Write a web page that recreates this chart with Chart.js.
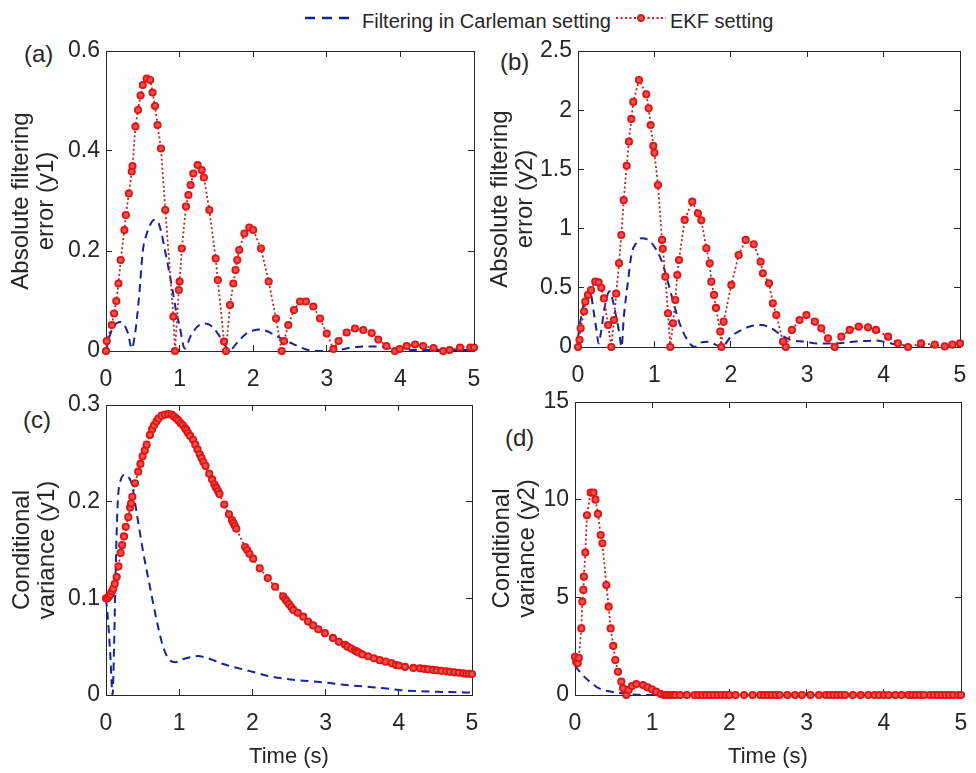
<!DOCTYPE html>
<html>
<head>
<meta charset="utf-8">
<script src="https://cdn.jsdelivr.net/npm/chart.js@4.4.1/dist/chart.umd.min.js"></script>
<style>
  body { margin: 0; background: #fff; width: 976px; height: 773px; position: relative; overflow: hidden;
         font-family: "Liberation Sans", Arial, sans-serif; color: #262626; }
  canvas { position: absolute; }
  .lbl { position: absolute; font-size: 24px; line-height: 24px; }
  .leg { position: absolute; font-size: 20px; line-height: 24px; top: 9px; white-space: nowrap; }
  svg { position: absolute; }
</style>
</head>
<body>
<svg style="left:305px; top:10px" width="48" height="16"><line x1="0" y1="8" x2="47" y2="8" stroke="rgb(25,35,150)" stroke-width="2.5" stroke-dasharray="10,7"/></svg>
<div class="leg" style="left:362px">Filtering in Carleman setting</div>
<svg style="left:614px; top:10px" width="54" height="16"><line x1="2" y1="8" x2="52" y2="8" stroke="rgb(185,35,35)" stroke-width="1.8" stroke-dasharray="2,2.5"/><circle cx="27" cy="8" r="3" fill="rgb(235,80,80)" stroke="rgb(225,20,20)" stroke-width="1.8"/></svg>
<div class="leg" style="left:670px">EKF setting</div>

<div class="lbl" style="left:24px; top:42px">(a)</div>
<div class="lbl" style="left:500px; top:50px">(b)</div>
<div class="lbl" style="left:23px; top:408px">(c)</div>
<div class="lbl" style="left:505px; top:426px">(d)</div>

<canvas id="chartA" width="488" height="350" style="left:0; top:40px"></canvas>
<canvas id="chartB" width="488" height="350" style="left:488px; top:40px"></canvas>
<canvas id="chartC" width="488" height="383" style="left:0; top:390px"></canvas>
<canvas id="chartD" width="488" height="383" style="left:488px; top:390px"></canvas>

<script>
'use strict';

// tick labels
const xTicks = [0, 1, 2, 3, 4, 5];
const yTicksA = [0, 0.2, 0.4, 0.6];
const yTicksB = [0, 0.5, 1, 1.5, 2, 2.5];
const yTicksC = [0, 0.1, 0.2, 0.3];
const yTicksD = [0, 5, 10, 15];

// (a) absolute filtering error, y1
const tA_ekf = [0, 0.01, 0.08, 0.11, 0.14, 0.17, 0.2, 0.25, 0.27, 0.31,
  0.35, 0.36, 0.4, 0.435, 0.47, 0.5, 0.553, 0.6, 0.633, 0.666,
  0.7, 0.747, 0.806, 0.915, 0.937, 0.99, 1.0, 1.03, 1.087, 1.12,
  1.15, 1.186, 1.245, 1.3, 1.33, 1.404, 1.49, 1.52, 1.603, 1.63,
  1.685, 1.73, 1.76, 1.784, 1.81, 1.88, 1.947, 2.0, 2.106, 2.21,
  2.31, 2.387, 2.42, 2.477, 2.554, 2.636, 2.717, 2.817, 2.908, 2.999,
  3.09, 3.16, 3.27, 3.383, 3.496, 3.61, 3.7, 3.81, 3.926, 3.99,
  4.085, 4.2, 4.31, 4.45, 4.58, 4.67, 4.81, 4.95, 5.0];
const vA_ekf = [0, 0.02, 0.052, 0.075, 0.1, 0.135, 0.182, 0.242, 0.272, 0.315,
  0.359, 0.37, 0.449, 0.482, 0.511, 0.532, 0.545, 0.542, 0.517, 0.49,
  0.452, 0.405, 0.282, 0.069, 0, 0.122, 0.139, 0.205, 0.289, 0.312,
  0.332, 0.355, 0.372, 0.362, 0.347, 0.282, 0.185, 0.142, 0.019, 0,
  0.092, 0.135, 0.162, 0.182, 0.202, 0.235, 0.247, 0.242, 0.205, 0.139,
  0.065, 0, 0.02, 0.052, 0.082, 0.099, 0.099, 0.089, 0.065, 0.035,
  0.004, 0.02, 0.037, 0.045, 0.042, 0.036, 0.023, 0.01, 0, 0.004,
  0.01, 0.013, 0.01, 0.006, 0, 0.002, 0.007, 0.007, 0.007];
const tA_carl = [0, 0.05, 0.1, 0.15, 0.2, 0.25, 0.3, 0.35, 0.4, 0.45,
  0.5, 0.55, 0.6, 0.65, 0.7, 0.75, 0.8, 0.85, 0.9, 0.95,
  1.0, 1.07, 1.15, 1.25, 1.35, 1.45, 1.55, 1.68, 1.8, 1.9,
  2.0, 2.1, 2.2, 2.3, 2.4, 2.5, 2.6, 2.7, 2.8, 3.0,
  3.1, 3.2, 3.3, 3.4, 3.5, 3.6, 3.7, 3.8, 3.9, 4.0,
  4.2, 4.4, 4.6, 4.8, 5.0];
const vA_carl = [0, 0.03, 0.048, 0.056, 0.058, 0.052, 0.035, 0.005, 0.04, 0.11,
  0.2, 0.233, 0.252, 0.262, 0.26, 0.238, 0.202, 0.165, 0.125, 0.082,
  0.05, 0.005, 0.03, 0.05, 0.055, 0.048, 0.028, 0.002, 0.02, 0.034,
  0.041, 0.043, 0.039, 0.031, 0.024, 0.017, 0.01, 0.004, 0.001, 0,
  0.001, 0.003, 0.006, 0.008, 0.009, 0.009, 0.009, 0.007, 0.004, 0.002,
  0.002, 0.002, 0.002, 0.002, 0.002];

// (b) absolute filtering error, y2
const tB_ekf = [0, 0.02, 0.035, 0.079, 0.096, 0.131, 0.17, 0.226, 0.27, 0.305,
  0.34, 0.393, 0.436, 0.471, 0.5, 0.537, 0.567, 0.598, 0.637, 0.667,
  0.698, 0.724, 0.798, 0.894, 0.925, 0.951, 0.986, 1.0, 1.047, 1.1,
  1.11, 1.143, 1.178, 1.208, 1.244, 1.274, 1.3, 1.322, 1.396, 1.495,
  1.57, 1.614, 1.68, 1.724, 1.745, 1.78, 1.806, 1.862, 1.876, 1.906,
  2.007, 2.103, 2.195, 2.3, 2.39, 2.42, 2.5, 2.55, 2.596, 2.684,
  2.72, 2.8, 2.9, 2.99, 3.1, 3.185, 3.272, 3.36, 3.447, 3.556,
  3.674, 3.796, 3.9, 4.058, 4.188, 4.32, 4.49, 4.67, 4.8, 4.9,
  5.0];
const vB_ekf = [0, 0.06, 0.158, 0.3, 0.383, 0.44, 0.48, 0.552, 0.545, 0.5,
  0.41, 0.186, 0, 0.228, 0.45, 0.707, 0.946, 1.24, 1.53, 1.734,
  1.926, 2.07, 2.255, 2.134, 2.016, 1.875, 1.698, 1.64, 1.368, 0.904,
  0.83, 0.594, 0.285, 0, 0.2, 0.397, 0.608, 0.735, 1.073, 1.227,
  1.129, 1.07, 0.834, 0.707, 0.552, 0.44, 0.33, 0.13, 0, 0.214,
  0.524, 0.777, 0.904, 0.867, 0.72, 0.622, 0.538, 0.369, 0.27, 0.045,
  0, 0.144, 0.228, 0.27, 0.214, 0.158, 0.073, 0, 0.087, 0.144,
  0.172, 0.166, 0.144, 0.087, 0.031, 0, 0.03, 0.02, 0.005, 0.02,
  0.03];
const tB_carl = [0, 0.04, 0.08, 0.12, 0.16, 0.2, 0.24, 0.27, 0.3, 0.34,
  0.38, 0.42, 0.46, 0.5, 0.54, 0.57, 0.6, 0.65, 0.7, 0.76,
  0.83, 0.9, 1.0, 1.09, 1.17, 1.24, 1.33, 1.42, 1.53, 1.6,
  1.7, 1.8, 1.88, 2.0, 2.14, 2.27, 2.4, 2.53, 2.66, 2.79,
  2.97, 3.15, 3.35, 3.6, 3.9, 4.0, 4.2, 4.4, 4.6, 4.8,
  5.0];
const vB_carl = [0.08, 0.25, 0.38, 0.45, 0.47, 0.32, 0.15, 0.03, 0.12, 0.3,
  0.43, 0.47, 0.38, 0.256, 0.12, 0, 0.256, 0.53, 0.78, 0.876,
  0.918, 0.91, 0.847, 0.735, 0.566, 0.397, 0.2, 0.073, 0, 0.035,
  0.045, 0.02, 0, 0.087, 0.144, 0.177, 0.186, 0.158, 0.101, 0.059,
  0.045, 0.03, 0.03, 0.045, 0.054, 0.045, 0.017, 0.01, 0.01, 0.01,
  0.01];

// (c) conditional variance, y1
const tC_ekf = [0, 0.01, 0.02, 0.04, 0.06, 0.08, 0.1, 0.12, 0.146, 0.17,
  0.2, 0.22, 0.246, 0.27, 0.305, 0.33, 0.342, 0.36, 0.396, 0.44,
  0.47, 0.5, 0.53, 0.556, 0.6, 0.63, 0.656, 0.69, 0.715, 0.76,
  0.806, 0.85, 0.897, 0.93, 0.96, 0.988, 1.02, 1.05, 1.08, 1.1,
  1.12, 1.15, 1.19, 1.22, 1.25, 1.28, 1.306, 1.33, 1.36, 1.41,
  1.45, 1.48, 1.5, 1.51, 1.53, 1.55, 1.616, 1.68, 1.72, 1.74,
  1.76, 1.78, 1.9, 1.93, 1.96, 2.01, 2.1, 2.21, 2.31, 2.42,
  2.45, 2.47, 2.5, 2.53, 2.56, 2.62, 2.695, 2.76, 2.83, 2.9,
  2.99, 3.1, 3.18, 3.265, 3.3, 3.35, 3.4, 3.425, 3.45, 3.5,
  3.58, 3.66, 3.74, 3.82, 3.9, 3.96, 4.0, 4.085, 4.2, 4.29,
  4.35, 4.4, 4.47, 4.52, 4.58, 4.65, 4.7, 4.76, 4.82, 4.88,
  4.92, 4.96, 5.0];
const vC_ekf = [0.1, 0.1, 0.1, 0.102, 0.104, 0.107, 0.11, 0.115, 0.122, 0.133,
  0.147, 0.155, 0.164, 0.174, 0.184, 0.194, 0.198, 0.205, 0.219, 0.231,
  0.239, 0.247, 0.253, 0.259, 0.269, 0.275, 0.279, 0.283, 0.286, 0.289,
  0.29, 0.2905, 0.29, 0.288, 0.286, 0.284, 0.281, 0.279, 0.276, 0.274,
  0.271, 0.268, 0.264, 0.259, 0.254, 0.249, 0.245, 0.241, 0.237, 0.229,
  0.223, 0.218, 0.215, 0.214, 0.211, 0.208, 0.197, 0.187, 0.181, 0.178,
  0.175, 0.172, 0.153, 0.15, 0.146, 0.141, 0.131, 0.121, 0.112, 0.102,
  0.099, 0.097, 0.094, 0.091, 0.088, 0.085, 0.081, 0.076, 0.072, 0.068,
  0.064, 0.059, 0.055, 0.052, 0.05, 0.048, 0.046, 0.045, 0.044, 0.042,
  0.04, 0.038, 0.036, 0.0345, 0.033, 0.031, 0.0305, 0.029, 0.028, 0.0276,
  0.027, 0.0265, 0.0259, 0.0255, 0.025, 0.0245, 0.024, 0.0235, 0.023, 0.0224,
  0.022, 0.022, 0.0217];
const tC_carl = [0, 0.03, 0.06, 0.09, 0.11, 0.13, 0.15, 0.17, 0.2, 0.25,
  0.3, 0.35, 0.42, 0.51, 0.6, 0.69, 0.78, 0.87, 0.95, 1.05,
  1.15, 1.25, 1.35, 1.47, 1.6, 1.74, 1.9, 2.0, 2.2, 2.42,
  2.65, 2.88, 3.2, 3.56, 3.8, 4.02, 4.25, 4.47, 4.7, 5.0];
const vC_carl = [0.1, 0.075, 0.04, 0, 0.05, 0.12, 0.18, 0.21, 0.222, 0.228,
  0.226, 0.219, 0.188, 0.147, 0.112, 0.078, 0.05, 0.036, 0.034, 0.037,
  0.039, 0.0403, 0.039, 0.036, 0.032, 0.029, 0.026, 0.024, 0.02, 0.017,
  0.015, 0.0138, 0.011, 0.0086, 0.007, 0.005, 0.004, 0.0035, 0.003, 0.0025];

// (d) conditional variance, y2
const tD_ekf = [0, 0.015, 0.035, 0.05, 0.082, 0.095, 0.108, 0.115, 0.134, 0.155,
  0.203, 0.24, 0.265, 0.298, 0.333, 0.355, 0.406, 0.436, 0.462, 0.496,
  0.522, 0.557, 0.6, 0.623, 0.665, 0.695, 0.738, 0.794, 0.881, 0.94,
  0.997, 1.05, 1.11, 1.15, 1.18, 1.21, 1.24, 1.27, 1.3, 1.36,
  1.45, 1.55, 1.6, 1.65, 1.7, 1.75, 1.8, 1.85, 1.9, 1.95,
  2.0, 2.08, 2.19, 2.3, 2.4, 2.45, 2.5, 2.55, 2.6, 2.65,
  2.75, 2.85, 2.94, 3.05, 3.16, 3.25, 3.3, 3.35, 3.4, 3.45,
  3.5, 3.6, 3.7, 3.8, 3.88, 3.94, 4.0, 4.06, 4.15, 4.23,
  4.32, 4.37, 4.42, 4.47, 4.52, 4.6, 4.65, 4.7, 4.75, 4.8,
  4.85, 4.9, 4.96, 5.0];
const vD_ekf = [1.95, 1.7, 1.62, 1.9, 3.41, 4.78, 5.38, 6.06, 7.29, 9.2,
  10.36, 10.36, 10.0, 9.27, 8.19, 7.77, 5.63, 4.52, 3.41, 2.51,
  1.79, 1.19, 0.68, 0.34, 0, 0.26, 0.46, 0.56, 0.51, 0.39,
  0.29, 0.17, 0.05, 0, 0, 0, 0, 0, 0, 0,
  0, 0, 0, 0, 0, 0, 0, 0, 0, 0,
  0, 0, 0, 0, 0, 0, 0, 0, 0, 0,
  0, 0, 0, 0, 0, 0, 0, 0, 0, 0,
  0, 0, 0, 0, 0, 0, 0, 0, 0, 0,
  0, 0, 0, 0, 0, 0, 0, 0, 0, 0,
  0, 0, 0, 0];
const tD_carl = [0, 0.05, 0.1, 0.17, 0.25, 0.3, 0.42, 0.58, 0.7, 0.8,
  1.0, 2.0, 3.0, 4.0, 5.0];
const vD_carl = [1.5, 1.25, 1.02, 0.75, 0.5, 0.36, 0.2, 0.1, 0.04, 0.015,
  0, 0, 0, 0, 0];

const ink = '#262626';
const fontFamily = '"Liberation Sans", Arial, sans-serif';

function pts(ts, vs) {
  return ts.map((t, i) => ({x: t, y: vs[i]}));
}

function setTicks(list) {
  return function(scale) {
    scale.ticks = list.map(v => ({value: v}));
  };
}

// fix an axis size and stop its labels from pushing the plot area
function fixSize(prop, size) {
  return function(scale) {
    scale[prop] = size;
    scale.paddingLeft = 0;
    scale.paddingRight = 0;
    scale.paddingTop = 0;
    scale.paddingBottom = 0;
  };
}

// inward MATLAB-style tick marks
const tickGrid = {display: true, drawOnChartArea: false, drawTicks: true, tickLength: -6, color: ink, lineWidth: 1};

function makePanel(id, p) {
  new Chart(document.getElementById(id), {
    type: 'line',
    data: {
      datasets: [
        {
          label: 'EKF setting',
          data: pts(p.tEkf, p.vEkf),
          order: 0,
          borderColor: 'rgb(185,35,35)',
          borderWidth: 1.8,
          borderDash: [2, 2.5],
          tension: 0,
          pointRadius: 3.2,
          pointBorderWidth: 1.8,
          pointBorderColor: 'rgb(225,20,20)',
          pointBackgroundColor: 'rgb(235,80,80)',
          clip: false
        },
        {
          label: 'Filtering in Carleman setting',
          data: pts(p.tCarl, p.vCarl),
          order: 1,
          borderColor: 'rgb(25,35,150)',
          borderWidth: 2,
          borderDash: [8, 5.5],
          cubicInterpolationMode: 'monotone',
          pointRadius: 0,
          clip: false
        }
      ]
    },
    options: {
      responsive: false,
      animation: false,
      layout: {padding: {left: 0, top: p.padTop, right: p.padRight, bottom: 0}},
      plugins: {legend: {display: false}, tooltip: {enabled: false}},
      scales: {
        x: {
          type: 'linear', position: 'bottom', min: 0, max: 5,
          afterBuildTicks: setTicks(xTicks),
          afterFit: fixSize('height', p.xAxisHeight),
          grid: tickGrid,
          border: {display: true, color: ink, width: 1},
          ticks: {padding: 21, maxRotation: 0, color: ink, font: {family: fontFamily, size: 23},
                  callback: v => String(v)},
          title: {display: p.xTitle, text: 'Time (s)', color: ink, padding: {top: 0, bottom: 3},
                  font: {family: fontFamily, size: 22}}
        },
        xTop: {
          type: 'linear', position: 'top', min: 0, max: 5,
          afterBuildTicks: setTicks(xTicks),
          afterFit: fixSize('height', 0),
          grid: tickGrid,
          border: {display: true, color: ink, width: 1},
          ticks: {display: false}
        },
        y: {
          type: 'linear', position: 'left', min: 0, max: p.yMax,
          afterBuildTicks: setTicks(p.yTicks),
          afterFit: fixSize('width', p.yAxisWidth),
          grid: tickGrid,
          border: {display: true, color: ink, width: 1},
          ticks: {padding: 12, color: ink, font: {family: fontFamily, size: 23},
                  callback: v => String(v)},
          title: {display: true, text: p.yTitle, color: ink, padding: {top: p.titlePad, bottom: 0},
                  font: {family: fontFamily, size: 24, lineHeight: 1.05}}
        },
        yRight: {
          type: 'linear', position: 'right', min: 0, max: p.yMax,
          afterBuildTicks: setTicks(p.yTicks),
          afterFit: fixSize('width', 0),
          grid: tickGrid,
          border: {display: true, color: ink, width: 1},
          ticks: {display: false}
        }
      }
    }
  });
}

makePanel('chartA', {
  tEkf: tA_ekf, vEkf: vA_ekf, tCarl: tA_carl, vCarl: vA_carl,
  yMax: 0.6, yTicks: yTicksA, yTitle: ['Absolute filtering', 'error (y1)'],
  padTop: 11, padRight: 14, yAxisWidth: 106, xAxisHeight: 39, titlePad: 9, xTitle: false
});
makePanel('chartB', {
  tEkf: tB_ekf, vEkf: vB_ekf, tCarl: tB_carl, vCarl: vB_carl,
  yMax: 2.5, yTicks: yTicksB, yTitle: ['Absolute filtering', 'error (y2)'],
  padTop: 11, padRight: 16, yAxisWidth: 90, xAxisHeight: 43, titlePad: 0, xTitle: false
});
makePanel('chartC', {
  tEkf: tC_ekf, vEkf: vC_ekf, tCarl: tC_carl, vCarl: vC_carl,
  yMax: 0.3, yTicks: yTicksC, yTitle: ['Conditional', 'variance (y1)'],
  padTop: 15, padRight: 16, yAxisWidth: 106, xAxisHeight: 78, titlePad: 10, xTitle: true
});
makePanel('chartD', {
  tEkf: tD_ekf, vEkf: vD_ekf, tCarl: tD_carl, vCarl: vD_carl,
  yMax: 15, yTicks: yTicksD, yTitle: ['Conditional', 'variance (y2)'],
  padTop: 12, padRight: 15, yAxisWidth: 87, xAxisHeight: 78, titlePad: 2, xTitle: true
});
</script>
</body>
</html>
